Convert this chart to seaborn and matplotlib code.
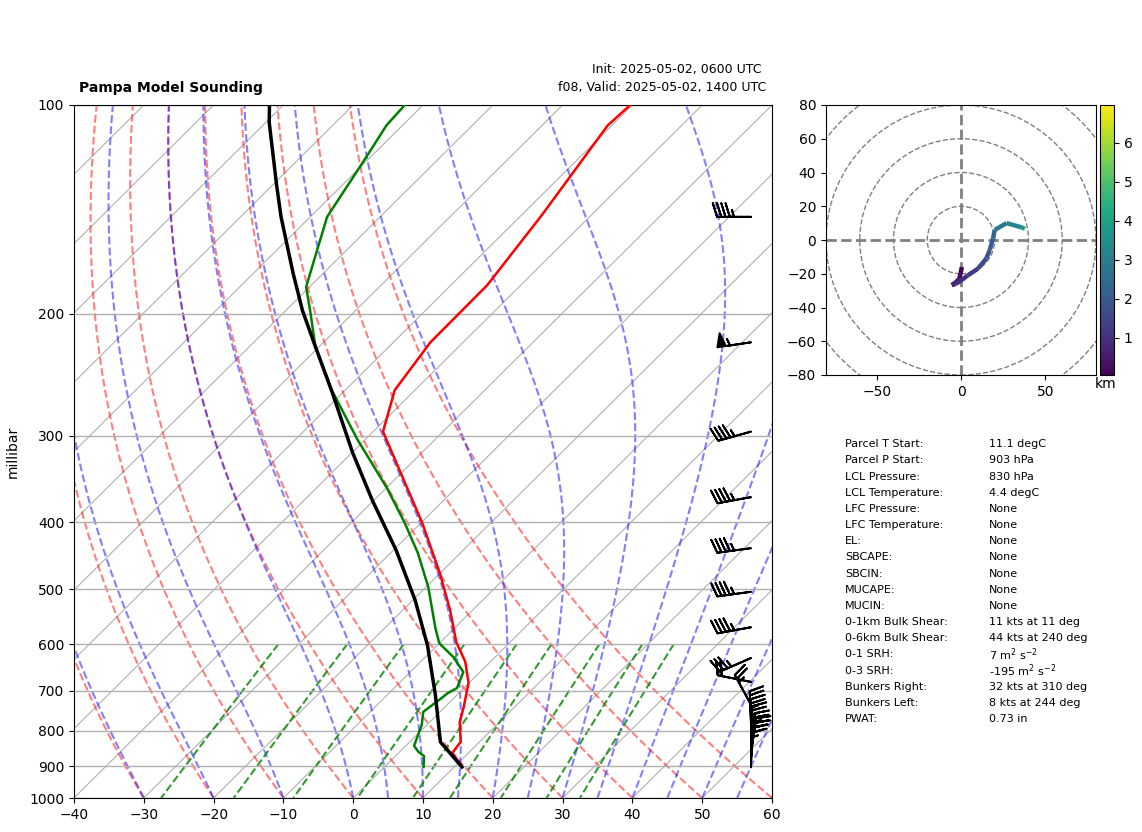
import numpy as np
import matplotlib
matplotlib.use('Agg')
import matplotlib.pyplot as plt
import matplotlib.transforms as mtransforms
from matplotlib.collections import LineCollection
from matplotlib.ticker import FixedLocator, NullLocator, ScalarFormatter
import seaborn as sns

# Sounding
temp_p = [100, 107, 144, 182, 220, 258, 296, 401, 474, 535, 596, 636, 682, 739, 777, 830, 861, 902]
temp_c = [-60.3, -60.6, -57.1, -54.8, -54.7, -52.9, -48.6, -29.8, -20.0, -13.3, -7.7, -3.6, -0.1, 2.7, 4.3, 7.3, 7.7, 11.1]

dewp_p = [100, 107, 119, 145, 183, 200, 223, 258, 304, 357, 401, 443, 496, 523, 568, 598, 626, 658,
          694, 706, 720, 751, 785, 817, 841, 858, 870, 902]
dewp_c = [-92.6, -92.3, -90.6, -87.6, -80.5, -76.0, -70.6, -61.9, -51.1, -39.9, -32.3, -26.1, -19.7, -17.0,
          -12.8, -10.0, -6.0, -2.4, -1.0, -1.6, -1.8, -2.4, -0.7, 0.4, 1.2, 2.7, 4.1, 5.6]

parcel_p = [100, 106, 130, 145, 175, 198, 223, 260, 317, 372, 439, 518, 602, 710, 830, 902]
parcel_c = [-112.0, -109.5, -99.6, -94.2, -84.3, -77.6, -70.6, -61.5, -50.0, -40.2, -29.6, -19.7, -11.4, -3.1, 4.4, 11.1]

# Wind barbs (kts)
barb_p = [145, 220, 296, 368, 436, 504, 567, 628, 680, 734, 785, 806, 825, 844, 858, 873, 887, 903]
barb_u = [45, 54, 43, 44, 44, 44, 44, 32, 20, 13, 1, 0, -1, -3, -4, -2, -1, 0]
barb_v = [0, 8, 12, 8, 6, 6, 8, 14, -4, -24, -25, -25, -25, -26, -26, -21, -18, -15]

# Hodograph
hodo_u = [0.5, -0.3, -1, -3, -5.5, -3, 0, 4, 10, 15, 17, 19, 20, 27, 36, 37.5, 38]
hodo_v = [-16, -20, -23, -25, -26.7, -26, -24, -21, -17, -11, -6, 1, 6, 10, 7.5, 6.8, 6.5]
hodo_z = [0.05, 0.2, 0.4, 0.6, 0.7, 0.9, 1.0, 1.2, 1.6, 1.9, 2.1, 2.4, 2.8, 3.2, 3.5, 4.8, 5.5]
hodo_rings = [20, 40, 60, 80, 100]

# Table on the right
stat_names = ['Parcel T Start:', 'Parcel P Start:', 'LCL Pressure:', 'LCL Temperature:', 'LFC Pressure:',
              'LFC Temperature:', 'EL:', 'SBCAPE:', 'SBCIN:', 'MUCAPE:', 'MUCIN:', '0-1km Bulk Shear:',
              '0-6km Bulk Shear:', '0-1 SRH:', '0-3 SRH:', 'Bunkers Right:', 'Bunkers Left:', 'PWAT:']
stat_values = ['11.1 degC', '903 hPa', '830 hPa', '4.4 degC', 'None', 'None', 'None', 'None', 'None', 'None',
               'None', '11 kts at 11 deg', '44 kts at 240 deg', r'7 $\mathrm{m}^{2}\ \mathrm{s}^{-2}$',
               r'-195 $\mathrm{m}^{2}\ \mathrm{s}^{-2}$', '32 kts at 310 deg', '8 kts at 244 deg', '0.73 in']

W, H = 1142, 832
pressure_ticks = [100, 200, 300, 400, 500, 600, 700, 800, 900, 1000]
temp_ticks = list(range(-40, 61, 10))


def px_axes(fig, left, top, right, bottom):
    """Axes placed by pixel edges (y counted from the top)."""
    return fig.add_axes([left / W, 1 - bottom / H, (right - left) / W, (bottom - top) / H])


def sat_vapor(t_k):
    return 6.112 * np.exp(17.67 * (t_k - 273.15) / (t_k - 29.65))


def moist_slope(p, t_k):
    rs = 0.622 * sat_vapor(t_k) / (p - sat_vapor(t_k))
    lv = 2.501e6
    return ((287.05 * t_k + lv * rs) / (1005.0 + lv ** 2 * rs * 0.622 / (287.05 * t_k ** 2))) / p


def moist_adiabat(t0, levels):
    out = [t0 + 273.15]
    for p0, p1 in zip(levels[:-1], levels[1:]):
        dp = p1 - p0
        t = out[-1]
        k1 = moist_slope(p0, t)
        k2 = moist_slope(p0 + dp / 2, t + dp * k1 / 2)
        k3 = moist_slope(p0 + dp / 2, t + dp * k2 / 2)
        k4 = moist_slope(p1, t + dp * k3)
        out.append(t + dp * (k1 + 2 * k2 + 2 * k3 + k4) / 6)
    return np.array(out) - 273.15


fig = plt.figure(figsize=(W / 100, H / 100), dpi=100)
ax = px_axes(fig, 74, 105, 772, 798)
ax.set_yscale('log')
ax.set_xlim(-40, 60)
ax.set_ylim(1000, 100)

# Skew so the -40 isotherm runs corner to corner of the axes
x0, y0 = ax.transAxes.transform((0, 0))
x1, y1 = ax.transAxes.transform((1, 1))
skew_angle = np.degrees(np.arctan((x1 - x0) / (y1 - y0)))
skew = ax.transData + mtransforms.Affine2D().translate(-x0, -y0).skew_deg(skew_angle, 0).translate(x0, y0)

# Isotherms and isobars
for t in range(-140, 61, 10):
    ax.plot([t, t], [1000, 100], color='#b0b0b0', lw=0.8, transform=skew, zorder=1)
ax.yaxis.grid(True, color='#b0b0b0', lw=1.0, zorder=1)

# Dry adiabats
levels = np.linspace(1000, 100, 300)
for t0 in np.arange(-40, 61, 10):
    ax.plot((t0 + 273.15) * (levels / 1000) ** 0.2854 - 273.15, levels, color='r', ls='--', lw=1.5,
            alpha=0.5, transform=skew, zorder=1.5)

# Moist adiabats
for t0 in np.concatenate((np.arange(-40, 0, 10), np.arange(0, 61, 5))):
    ax.plot(moist_adiabat(float(t0), levels), levels, color='b', ls='--', lw=1.5, alpha=0.5,
            transform=skew, zorder=1.5)

# Mixing ratio lines up to 600 hPa
mix_levels = np.linspace(600, 1000, 50)
for w in [0.0004, 0.001, 0.002, 0.004, 0.007, 0.01, 0.016, 0.024, 0.032]:
    e = mix_levels * w / (0.622 + w)
    td = 243.5 * np.log(e / 6.112) / (17.67 - np.log(e / 6.112))
    ax.plot(td, mix_levels, color='g', ls='--', lw=1.5, alpha=0.8, transform=skew, zorder=1.5)

# Traces
sns.lineplot(x=temp_c, y=temp_p, color='r', lw=1.8, sort=False, estimator=None, errorbar=None, ax=ax,
             transform=skew, zorder=3)
sns.lineplot(x=dewp_c, y=dewp_p, color='g', lw=1.8, sort=False, estimator=None, errorbar=None, ax=ax,
             transform=skew, zorder=3)
sns.lineplot(x=parcel_c, y=parcel_p, color='k', lw=2.5, sort=False, estimator=None, errorbar=None, ax=ax,
             transform=skew, zorder=3)

ax.barbs([0.97] * len(barb_p), barb_p, barb_u, barb_v, transform=ax.get_yaxis_transform(),
         length=7, linewidth=1.4, clip_on=True, zorder=4)

ax.set_xlim(-40, 60)
ax.set_ylim(1000, 100)
ax.yaxis.set_major_locator(FixedLocator(pressure_ticks))
ax.yaxis.set_major_formatter(ScalarFormatter())
ax.yaxis.set_minor_locator(NullLocator())
ax.xaxis.set_major_locator(FixedLocator(temp_ticks))
ax.set_ylabel('millibar', labelpad=7)
ax.set_xlabel('')

fig.text(79 / W, 1 - 88 / H, 'Pampa Model Sounding', fontsize=10, fontweight='bold', va='center')
fig.text(762 / W, 1 - 70 / H, 'Init: 2025-05-02, 0600 UTC', fontsize=9, ha='right', va='center')
fig.text(766 / W, 1 - 88 / H, 'f08, Valid: 2025-05-02, 1400 UTC', fontsize=9, ha='right', va='center')

# Hodograph
hax = px_axes(fig, 826, 105, 1096, 375)
for r in hodo_rings:
    hax.add_patch(plt.Circle((0, 0), r, fill=False, ec='grey', ls='--', lw=1, zorder=1))
hax.axhline(0, color='grey', ls='--', lw=2, zorder=1)
hax.axvline(0, color='grey', ls='--', lw=2, zorder=1)
pts = np.column_stack([hodo_u, hodo_v])
segs = np.stack([pts[:-1], pts[1:]], axis=1)
lc = LineCollection(segs, cmap='viridis', norm=plt.Normalize(0.05, 6.97), lw=3.2, zorder=3)
lc.set_array(np.array(hodo_z[:-1]))
hax.add_collection(lc)
hax.set_xlim(-80, 80)
hax.set_ylim(-80, 80)
hax.set_xticks([-50, 0, 50])
hax.set_yticks(range(-80, 81, 20))

cax = px_axes(fig, 1100, 105, 1114, 375)
fig.colorbar(lc, cax=cax, ticks=[1, 2, 3, 4, 5, 6])
fig.text(1106 / W, 1 - 384 / H, 'km', fontsize=10, ha='center', va='center')

# Stats table
for i, (name, value) in enumerate(zip(stat_names, stat_values)):
    y = 444.3 + i * 16.16
    fig.text(845 / W, 1 - y / H, name, fontsize=8, va='center')
    fig.text(989 / W, 1 - y / H, value, fontsize=8, va='center')

fig.savefig('out.png', dpi=100, facecolor='white')
